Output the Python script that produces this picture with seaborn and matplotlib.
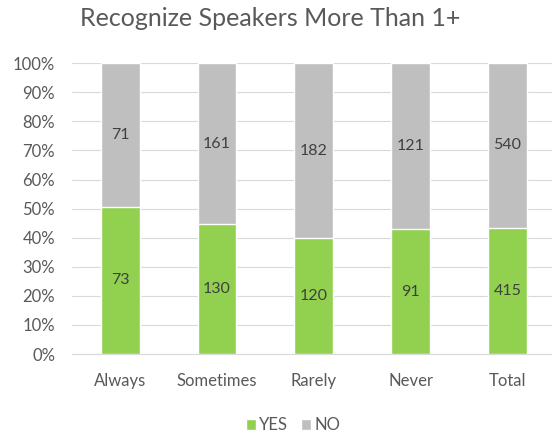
import pandas as pd
import matplotlib.pyplot as plt
import seaborn as sns

# Data
categories = ['Always', 'Sometimes', 'Rarely', 'Never', 'Total']
yes_counts = [73, 130, 120, 91, 415]
no_counts = [71, 161, 182, 121, 540]

df = pd.DataFrame({'Category': categories, 'YES': yes_counts, 'NO': no_counts})
df['Total'] = df['YES'] + df['NO']
df['YES_pct'] = df['YES'] / df['Total'] * 100
df['ALL_pct'] = 100.0

sns.set_style("white")
plt.rcParams['font.family'] = ['Lato', 'DejaVu Sans']
text_col = '#595959'
green = '#92D050'
grey = '#BFBFBF'

fig = plt.figure(figsize=(5.52, 4.36), dpi=100)
ax = fig.add_axes([0.13, 0.188, 0.877, 0.667])

# Full bar in grey (NO), then YES on top from the bottom
sns.barplot(x='Category', y='ALL_pct', data=df, color=grey, width=0.4,
            saturation=1, ax=ax, label='NO', zorder=2)
sns.barplot(x='Category', y='YES_pct', data=df, color=green, width=0.4,
            saturation=1, ax=ax, label='YES', zorder=3)

# Count labels in the middle of each segment
for i, row in df.iterrows():
    ax.text(i, row['YES_pct'] / 2, str(row['YES']), ha='center', va='center',
            fontsize=11.5, color='#404040', zorder=4)
    ax.text(i, row['YES_pct'] + (100 - row['YES_pct']) / 2, str(row['NO']),
            ha='center', va='center', fontsize=11.5, color='#404040', zorder=4)

ax.set_ylim(0, 100)
ax.set_xlim(-0.5, 4.5)
ax.set_yticks(range(0, 101, 10))
ax.set_yticklabels([f'{v}%' for v in range(0, 101, 10)])
ax.yaxis.grid(True, color='#D9D9D9', linewidth=0.8, zorder=0)
ax.set_axisbelow(True)
for s in ['top', 'right', 'left']:
    ax.spines[s].set_visible(False)
ax.spines['bottom'].set_color('#D9D9D9')
ax.tick_params(axis='both', length=0, labelsize=12, labelcolor=text_col)
ax.tick_params(axis='y', pad=12)
ax.tick_params(axis='x', pad=14)
ax.set_xlabel('')
ax.set_ylabel('')

fig.suptitle('Recognize Speakers More Than 1+', fontsize=18, color=text_col,
             x=0.49, y=0.985)

handles, labels = ax.get_legend_handles_labels()
order = [labels.index('YES'), labels.index('NO')]
ax.legend([handles[k] for k in order], [labels[k] for k in order],
          loc='center', bbox_to_anchor=(0.457, -0.245), ncol=2, frameon=False,
          fontsize=12, labelcolor=text_col, handlelength=0.6, handleheight=0.6,
          handletextpad=0.2, columnspacing=0.8)

plt.savefig('out.png', dpi=100)
plt.close()
